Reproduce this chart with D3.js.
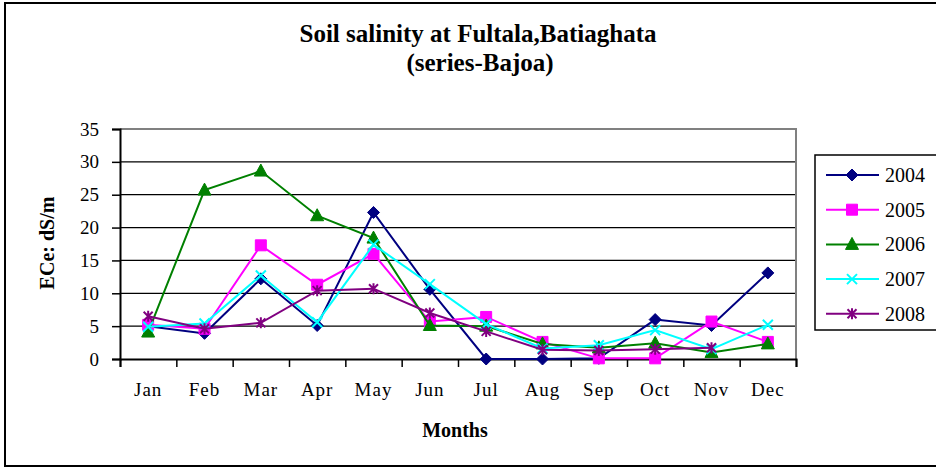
<!DOCTYPE html>
<html>
<head>
<meta charset="utf-8">
<script src="https://cdn.jsdelivr.net/npm/d3@7"></script>
<style>
  body { margin: 0; background: #fff; }
  text { font-family: "Liberation Serif", "Times New Roman", serif; fill: #000; }
</style>
</head>
<body>
<div class="chart"></div>
<script>
const months = ['Jan', 'Feb', 'Mar', 'Apr', 'May', 'Jun', 'Jul', 'Aug', 'Sep', 'Oct', 'Nov', 'Dec'];
const yTicks = [0, 5, 10, 15, 20, 25, 30, 35];
const years = ['2004', '2005', '2006', '2007', '2008'];

const v2004 = [5.0, 3.9, 12.2, 5.1, 22.3, 10.6, 0, 0, 0.1, 6.0, 5.1, 13.1];
const v2005 = [5.2, 4.6, 17.3, 11.3, 16.0, 5.7, 6.4, 2.6, 0.1, 0.1, 5.7, 2.6];
const v2006 = [4.1, 25.7, 28.6, 21.8, 18.4, 5.1, 5.0, 2.3, 1.7, 2.4, 1.0, 2.3];
const v2007 = [4.9, 5.4, 12.7, 5.6, 17.4, 11.4, 5.3, 1.6, 2.1, 4.4, 1.5, 5.2];
const v2008 = [6.5, 4.6, 5.5, 10.4, 10.7, 7.0, 4.2, 1.4, 1.3, 1.5, 1.7, null];

const series = [
    {name: years[0], values: v2004, color: '#000080', marker: 'diamond'},
    {name: years[1], values: v2005, color: '#ff00ff', marker: 'square'},
    {name: years[2], values: v2006, color: '#008000', marker: 'triangle'},
    {name: years[3], values: v2007, color: '#00ffff', marker: 'x'},
    {name: years[4], values: v2008, color: '#800080', marker: 'star'}
];

const W = 936, H = 468;
const plot = {left: 120, right: 796, top: 129, bottom: 359};

const svg = d3.select('.chart').append('svg')
    .attr('width', W)
    .attr('height', H)
    .attr('viewBox', [0, 0, W, H]);

// outer frame
svg.append('rect')
    .attr('x', 5).attr('y', 3)
    .attr('width', 945).attr('height', 463)
    .attr('fill', 'none')
    .attr('stroke', '#000')
    .attr('stroke-width', 2);

const x = d3.scaleBand().domain(months).range([plot.left, plot.right]).padding(0);
const xEdge = d3.scaleLinear().domain([0, 12]).range([plot.left, plot.right]);
const y = d3.scaleLinear().domain([0, 35]).range([plot.bottom, plot.top]);

// gridlines
svg.append('g').selectAll('line')
    .data(yTicks.filter(d => d > 0 && d < 35))
    .enter().append('line')
    .attr('x1', plot.left).attr('x2', plot.right)
    .attr('y1', d => y(d)).attr('y2', d => y(d))
    .attr('stroke', '#000')
    .attr('stroke-width', 1.2);

// gray top/right border of plot area
svg.append('path')
    .attr('d', `M${plot.left},${y(35)}H${plot.right}V${plot.bottom}`)
    .attr('fill', 'none')
    .attr('stroke', '#808080')
    .attr('stroke-width', 2);

// y axis
const yAxis = svg.append('g')
    .attr('transform', `translate(${plot.left},0)`)
    .call(d3.axisLeft(y).tickValues(yTicks).tickSize(8).tickPadding(13));
yAxis.attr('font-family', null);
yAxis.select('.domain').attr('stroke-width', 2);
yAxis.selectAll('.tick line').attr('stroke-width', 1.5);
yAxis.selectAll('text').attr('font-size', 19);

// x axis ticks at category edges
const xTickAxis = svg.append('g')
    .attr('transform', `translate(0,${plot.bottom})`)
    .call(d3.axisBottom(xEdge).tickValues(d3.range(13)).tickSize(8).tickFormat(''));
xTickAxis.select('.domain').attr('stroke-width', 2);
xTickAxis.selectAll('.tick line').attr('stroke-width', 1.5);

// x axis labels at category centers
const xLab = svg.append('g')
    .attr('transform', `translate(0,${plot.bottom})`)
    .call(d3.axisBottom(x).tickSize(0).tickPadding(24));
xLab.attr('font-family', null);
xLab.select('.domain').remove();
xLab.selectAll('text')
    .attr('font-size', 19)
    .style('letter-spacing', '1px');

// lines and markers
const line = d3.line()
    .defined(d => d.v != null)
    .x(d => x(d.m) + x.bandwidth() / 2)
    .y(d => y(d.v));

function markerPath(type) {
    if (type === 'diamond') return 'M0,-6L6,0L0,6L-6,0Z';
    if (type === 'square') return 'M-5.5,-5.5H5.5V5.5H-5.5Z';
    if (type === 'triangle') return 'M0,-7L6.5,5L-6.5,5Z';
    if (type === 'x') return 'M-5,-5L5,5M-5,5L5,-5';
    return 'M-4.5,-4.5L4.5,4.5M-4.5,4.5L4.5,-4.5M0,-5.5V5.5';
}

series.forEach(s => {
    const pts = s.values.map((v, i) => ({m: months[i], v: v}));
    svg.append('path')
        .datum(pts)
        .attr('d', line)
        .attr('fill', 'none')
        .attr('stroke', s.color)
        .attr('stroke-width', 2);
    const filled = (s.marker === 'diamond' || s.marker === 'square' || s.marker === 'triangle');
    svg.append('g').selectAll('path')
        .data(pts.filter(d => d.v != null))
        .enter().append('path')
        .attr('transform', d => `translate(${x(d.m) + x.bandwidth() / 2},${y(d.v)})`)
        .attr('d', markerPath(s.marker))
        .attr('fill', filled ? s.color : 'none')
        .attr('stroke', s.color)
        .attr('stroke-width', filled ? 1 : 2);
});

// titles
svg.append('text')
    .attr('x', 478).attr('y', 42)
    .attr('text-anchor', 'middle')
    .attr('font-size', 25)
    .attr('font-weight', 'bold')
    .text('Soil salinity at Fultala,Batiaghata');
svg.append('text')
    .attr('x', 480).attr('y', 71)
    .attr('text-anchor', 'middle')
    .attr('font-size', 25)
    .attr('font-weight', 'bold')
    .text('(series-Bajoa)');

svg.append('text')
    .attr('x', 455).attr('y', 437)
    .attr('text-anchor', 'middle')
    .attr('font-size', 20)
    .attr('font-weight', 'bold')
    .text('Months');

svg.append('text')
    .attr('transform', 'translate(54,243) rotate(-90)')
    .attr('text-anchor', 'middle')
    .attr('font-size', 20)
    .attr('font-weight', 'bold')
    .text('ECe: dS/m');

// legend
const legend = svg.append('g');
legend.append('rect')
    .attr('x', 815).attr('y', 155)
    .attr('width', 140).attr('height', 175)
    .attr('fill', '#fff')
    .attr('stroke', '#000')
    .attr('stroke-width', 1.5);

const legItem = legend.selectAll('g.item')
    .data(series)
    .enter().append('g')
    .attr('class', 'item')
    .attr('transform', (d, i) => `translate(0,${175 + i * 34.7})`);
legItem.append('line')
    .attr('x1', 826).attr('x2', 879)
    .attr('stroke', d => d.color)
    .attr('stroke-width', 2);
legItem.append('path')
    .attr('transform', 'translate(852,0)')
    .attr('d', d => markerPath(d.marker))
    .attr('fill', d => (d.marker === 'x' || d.marker === 'star') ? 'none' : d.color)
    .attr('stroke', d => d.color)
    .attr('stroke-width', d => (d.marker === 'x' || d.marker === 'star') ? 2 : 1);
legItem.append('text')
    .attr('x', 885).attr('y', 7)
    .attr('font-size', 20)
    .text(d => d.name);
</script>
</body>
</html>
